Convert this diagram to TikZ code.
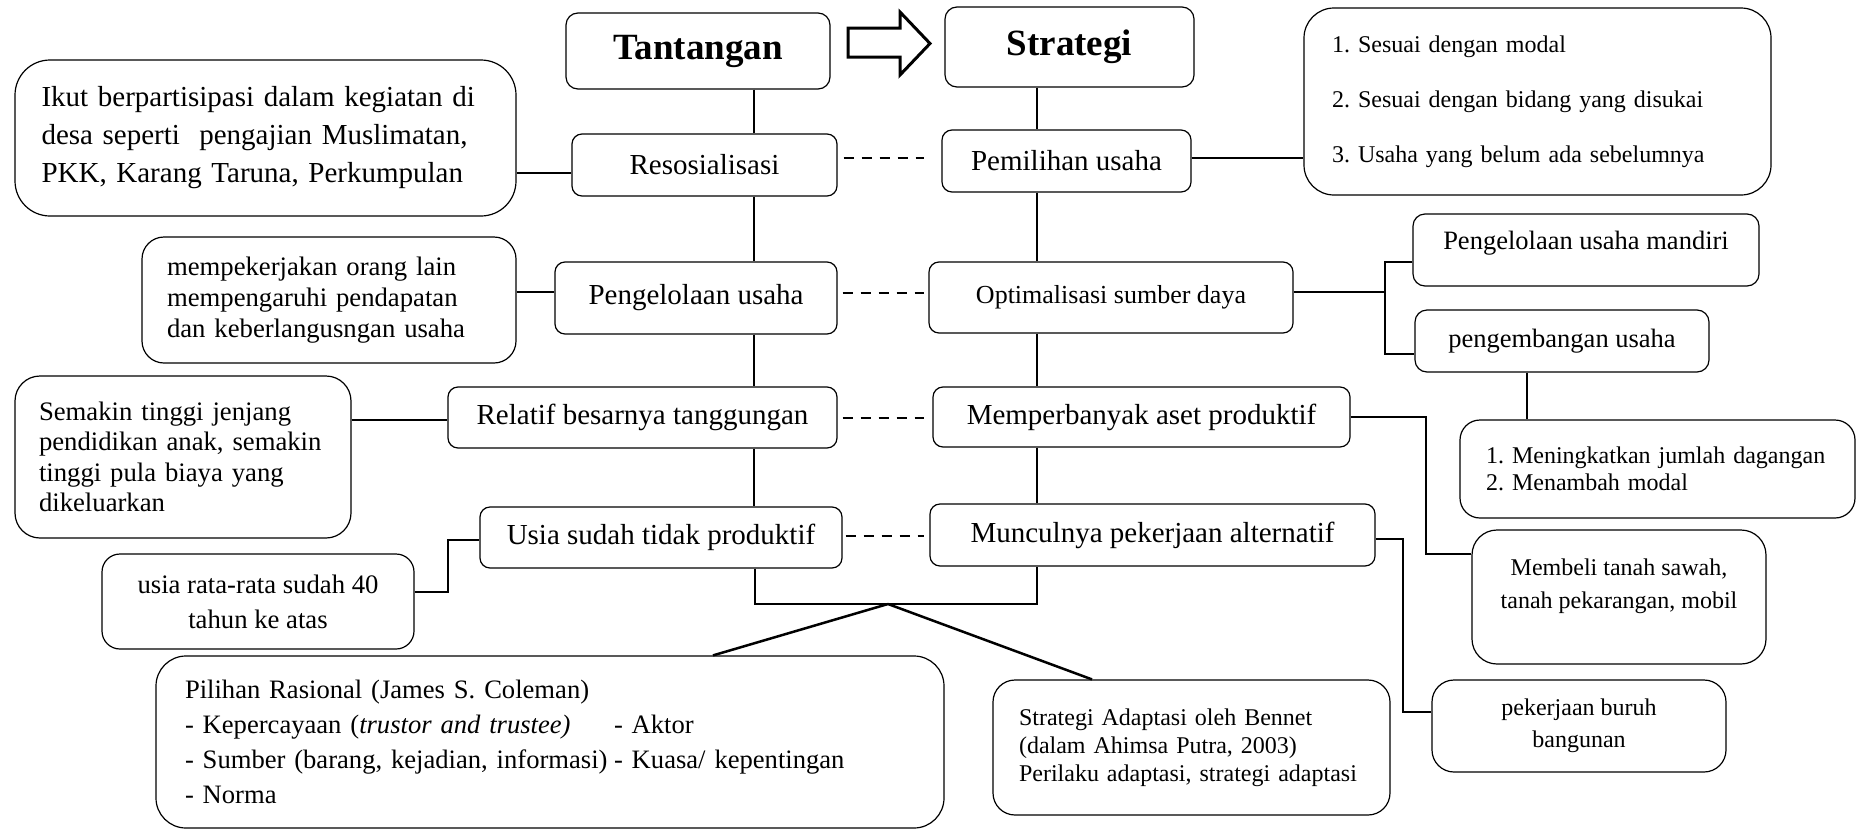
\documentclass[tikz,border=0pt]{standalone}
\usepackage{fontspec}
\setmainfont{Liberation Serif}
\begin{document}
\frenchspacing
\begin{tikzpicture}[x=1pt,y=-1pt,
  box/.style={draw, line width=1.2pt, inner sep=0pt, rounded corners=#1},
  box/.default=10pt,
  title/.style={font=\bfseries\fontsize{37}{44}\selectfont},
  mainf/.style={font=\fontsize{29}{34}\selectfont},
  spine/.style={line width=2pt},
  side/.style={line width=2.8pt},
  dashline/.style={line width=2.6pt, dash pattern=on 10pt off 8pt}]
\useasboundingbox (0,0) rectangle (1860,830);

% titles
\node[box=12pt, title, minimum width=264pt, minimum height=76pt] (tant) at (698,51) {Tantangan};
\node[box=12pt, title, minimum width=249pt, minimum height=80pt] (strat) at (1069.5,47) {Strategi};
\draw[line width=3pt, line join=miter] (848,28) -- (900,28) -- (900,12) -- (930,43.5) -- (900,75) -- (900,57) -- (848,57) -- cycle;

% left column
\node[box, mainf, minimum width=265pt, minimum height=62pt] (resos) at (704.5,165) {Resosialisasi};
\node[box, mainf, minimum width=282pt, minimum height=72pt] (pengel) at (696,298) {Pengelolaan usaha};
\node[box, mainf, minimum width=389pt, minimum height=61pt] (relatif) at (642.5,417.5) {Relatif besarnya tanggungan};
\node[box, mainf, minimum width=362pt, minimum height=61pt] (usia) at (661,537.5) {Usia sudah tidak produktif};

% right column
\node[box, mainf, minimum width=249pt, minimum height=62pt] (pemil) at (1066.5,161) {Pemilihan usaha};
\node[box, font=\fontsize{26}{31}\selectfont, minimum width=364pt, minimum height=71pt] (optim) at (1111,297.5) {Optimalisasi sumber daya};
\node[box, mainf, minimum width=417pt, minimum height=60pt] (memper) at (1141.5,417) {Memperbanyak aset produktif};
\node[box, mainf, minimum width=445pt, minimum height=62pt] (muncul) at (1152.5,535) {Munculnya pekerjaan alternatif};

% left descriptions
\node[box=35pt, minimum width=501pt, minimum height=156pt, text width=448pt, align=left,
  font=\fontsize{29}{38}\selectfont] (ikut) at (265.5,138)
  {Ikut berpartisipasi dalam kegiatan di\\ desa seperti~ pengajian Muslimatan,\\ PKK, Karang Taruna, Perkumpulan};
\node[box=22pt, minimum width=374pt, minimum height=126pt, text width=324pt, align=left,
  font=\fontsize{26.7}{31}\selectfont] (mempek) at (329,300)
  {mempekerjakan orang lain\\ mempengaruhi pendapatan\\ dan keberlangusngan usaha};
\node[box=25pt, minimum width=336pt, minimum height=162pt, text width=288pt, align=left,
  font=\fontsize{26.7}{30.5}\selectfont] (semakin) at (183,457)
  {Semakin tinggi jenjang\\ pendidikan anak, semakin\\ tinggi pula biaya yang\\ dikeluarkan};
\node[box=18pt, minimum width=312pt, minimum height=95pt, align=center,
  font=\fontsize{26.7}{35}\selectfont] (usiarata) at (258,601.5)
  {usia rata-rata sudah 40\\ tahun ke atas};
\node[box=30pt, minimum width=788pt, minimum height=172pt, text width=730pt, align=left,
  font=\fontsize{26.6}{35}\selectfont] (pilihan) at (550,742)
  {Pilihan Rasional (James S. Coleman)\\
   \makebox[429pt][l]{- Kepercayaan (\textit{trustor and trustee)}}- Aktor\\
   \makebox[429pt][l]{- Sumber (barang, kejadian, informasi)}- Kuasa/ kepentingan\\
   - Norma};
\node[box=22pt, minimum width=397pt, minimum height=135pt, text width=345pt, align=left,
  font=\fontsize{24}{28}\selectfont] (bennet) at (1191.5,747.5)
  {Strategi Adaptasi oleh Bennet\\ (dalam Ahimsa Putra, 2003)\\ Perilaku adaptasi, strategi adaptasi};

% right descriptions
\node[box=30pt, minimum width=467pt, minimum height=187pt, text width=411pt, align=left,
  font=\fontsize{24}{55}\selectfont] (list1) at (1537.5,101.5)
  {1. Sesuai dengan modal\\ 2. Sesuai dengan bidang yang disukai\\ 3. Usaha yang belum ada sebelumnya\\[-8pt]};
\node[box=12pt, font=\fontsize{26.5}{31}\selectfont, minimum width=346pt, minimum height=72pt] (mandiri) at (1586,250)
  {\raisebox{7pt}[\height][\depth]{Pengelolaan usaha mandiri}};
\node[box=12pt, font=\fontsize{26.5}{31}\selectfont, minimum width=294pt, minimum height=62pt] (pengemb) at (1562,341)
  {pengembangan usaha};
\node[box=20pt, minimum width=395pt, minimum height=98pt, text width=343pt, align=left,
  font=\fontsize{24}{27}\selectfont] (list2) at (1657.5,469)
  {1. Meningkatkan jumlah dagangan\\ 2. Menambah modal};
\node[box=25pt, minimum width=294pt, minimum height=134pt, align=center,
  font=\fontsize{24}{33}\selectfont] (membeli) at (1619,597)
  {Membeli tanah sawah,\\ tanah pekarangan, mobil\\[-6pt] ~};
\node[box=22pt, minimum width=294pt, minimum height=92pt, align=center,
  font=\fontsize{24}{32}\selectfont] (pekerj) at (1579,726)
  {pekerjaan buruh\\ bangunan};

% coordinates
\coordinate (lsp) at (754,0);
\coordinate (rsp) at (1037,0);
\coordinate (d1) at (0,158);
\coordinate (d2) at (0,293);
\coordinate (d3) at (0,418);
\coordinate (d4) at (0,536);
\coordinate (s1) at (0,173);
\coordinate (s2) at (0,292);
\coordinate (s3) at (0,420);
\coordinate (ua) at (0,592);
\coordinate (k1) at (448,540);
\coordinate (ob) at (1385,292);
\coordinate (ot) at (1385,262);
\coordinate (obt) at (1385,354);
\coordinate (pl) at (1527,0);
\coordinate (mp) at (1426,554);
\coordinate (mc) at (1403,712);
\coordinate (bl) at (755,604);
\coordinate (br) at (1037,604);
\coordinate (apex) at (888,604);
\coordinate (pa) at (713,0);
\coordinate (ba) at (1092,0);

% spines
\draw[spine] (tant.south -| lsp) -- (resos.north -| lsp);
\draw[spine] (resos.south -| lsp) -- (pengel.north -| lsp);
\draw[spine] (pengel.south -| lsp) -- (relatif.north -| lsp);
\draw[spine] (relatif.south -| lsp) -- (usia.north -| lsp);
\draw[spine] (strat.south -| rsp) -- (pemil.north -| rsp);
\draw[spine] (pemil.south -| rsp) -- (optim.north -| rsp);
\draw[spine] (optim.south -| rsp) -- (memper.north -| rsp);
\draw[spine] (memper.south -| rsp) -- (muncul.north -| rsp);

% dashed links
\draw[dashline, shorten <=6pt, shorten >=17pt] (resos.east |- d1) -- (pemil.west |- d1);
\draw[dashline, shorten <=5pt, shorten >=4pt] (pengel.east |- d2) -- (optim.west |- d2);
\draw[dashline, shorten <=5pt, shorten >=8pt] (relatif.east |- d3) -- (memper.west |- d3);
\draw[dashline, shorten <=3pt, shorten >=5pt] (usia.east |- d4) -- (muncul.west |- d4);

% side connectors
\draw[side] (ikut.east |- s1) -- (resos.west |- s1);
\draw[side] (mempek.east |- s2) -- (pengel.west |- s2);
\draw[side] (semakin.east |- s3) -- (relatif.west |- s3);
\draw[side] (usiarata.east |- ua) -| (k1) -- (usia.west |- k1);
\draw[side] (pemil.east |- d1) -- (list1.west |- d1);
\draw[side] (optim.east |- ob) -- (ob);
\draw[side] (mandiri.west |- ot) -- (ot) -- (obt) -- (pengemb.west |- obt);
\draw[spine] (pengemb.south -| pl) -- (list2.north -| pl);
\draw[side] (memper.east) -| (mp) -- (membeli.west |- mp);
\draw[side] ([yshift=-4pt]muncul.east) -| (mc) -- (pekerj.west |- mc);

% bottom bracket
\draw[line width=2.5pt] (usia.south -| bl) -- (bl) -- (br) -- (muncul.south -| br);
\draw[line width=2.5pt] (apex) -- (pilihan.north -| pa);
\draw[line width=2.5pt] (apex) -- (bennet.north -| ba);
\end{tikzpicture}
\end{document}
